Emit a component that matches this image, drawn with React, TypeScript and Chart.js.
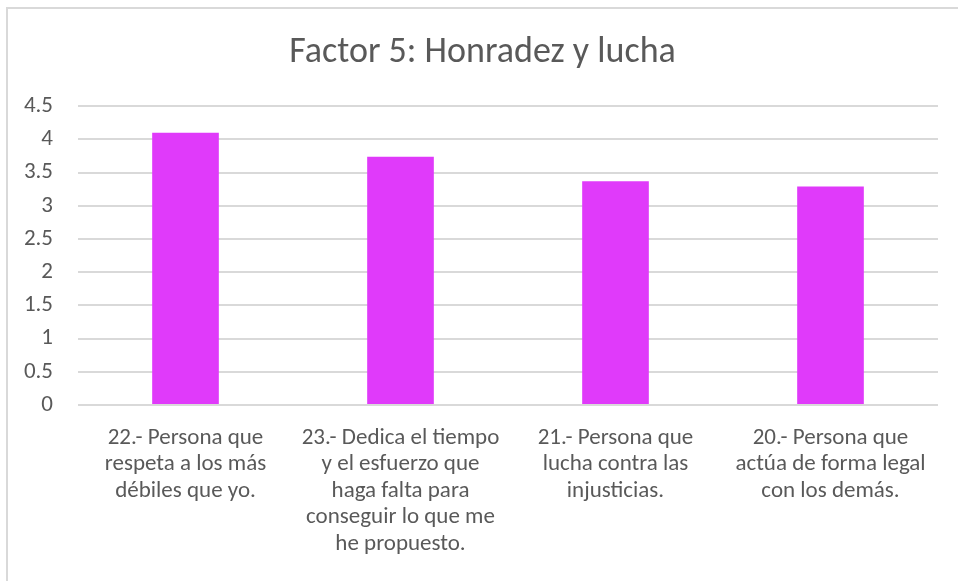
import React, { useEffect, useRef } from "react";
import { Chart, registerables } from "chart.js";

Chart.register(...registerables);

const TITLE = "Factor 5: Honradez y lucha";
const CATEGORIES: string[][] = [
  ["22.- Persona que", "respeta a los más", "débiles que yo."],
  ["23.- Dedica el tiempo", "y el esfuerzo que", "haga falta para", "conseguir lo que me", "he propuesto."],
  ["21.- Persona que", "lucha contra las", "injusticias."],
  ["20.- Persona que", "actúa de forma legal", "con los demás."],
];
const VALUES: number[] = [4.1, 3.74, 3.37, 3.29];
const Y_MIN = 0;
const Y_MAX = 4.5;
const Y_STEP = 0.5;

const FONT = "Carlito, Lato, 'Noto Sans', sans-serif";
const TEXT = "#595959";

export default function App() {
  const ref = useRef<HTMLCanvasElement | null>(null);
  useEffect(() => {
    if (!ref.current) return;
    const chart = new Chart(ref.current, {
      type: "bar",
      data: {
        labels: CATEGORIES,
        datasets: [
          {
            data: VALUES,
            backgroundColor: "#E03AFA",
            borderWidth: 0,
            categoryPercentage: 1,
            barPercentage: 0.31,
          },
        ],
      },
      options: {
        animation: false,
        responsive: false,
        maintainAspectRatio: false,
        layout: { padding: { left: 7, right: 0, top: 0, bottom: 0 } },
        plugins: {
          legend: { display: false },
          tooltip: { enabled: false },
          title: {
            display: true,
            text: TITLE,
            color: TEXT,
            font: { family: FONT, size: 36, weight: "normal", lineHeight: 1.2 },
            padding: { top: 31, bottom: 32 },
          },
        },
        scales: {
          x: {
            grid: { display: false, drawTicks: false },
            border: { display: false },
            ticks: {
              color: TEXT,
              font: { family: FONT, size: 23, lineHeight: 1.15 },
              padding: 20,
              maxRotation: 0,
              autoSkip: false,
            },
            afterFit: (s: any) => {
              s.height = 176;
            },
          },
          y: {
            min: Y_MIN,
            max: Y_MAX,
            grid: { color: "#d9d9d9", lineWidth: 2, drawTicks: false },
            border: { display: false },
            ticks: {
              stepSize: Y_STEP,
              color: TEXT,
              font: { family: FONT, size: 23 },
              padding: 25,
              callback: (v: any) => String(v),
            },
            afterFit: (s: any) => {
              s.width = 71;
            },
          },
          spacer: {
            type: "linear",
            position: "right",
            display: true,
            min: Y_MIN,
            max: Y_MAX,
            grid: { display: false, drawTicks: false },
            border: { display: false },
            ticks: { display: false },
            afterFit: (s: any) => {
              s.width = 20;
            },
          },
        },
      },
    });
    return () => chart.destroy();
  }, []);
  return (
    <div style={{ position: "absolute", left: 0, top: 0, width: 958, height: 581, overflow: "hidden", background: "#fff" }}>
      <div
        style={{
          position: "absolute",
          left: 6,
          top: 7,
          width: 1000,
          height: 700,
          borderLeft: "2px solid #d9d9d9",
          borderTop: "2px solid #d9d9d9",
        }}
      />
      <canvas ref={ref} width={958} height={581} style={{ position: "absolute", left: 0, top: 0 }} />
    </div>
  );
}
